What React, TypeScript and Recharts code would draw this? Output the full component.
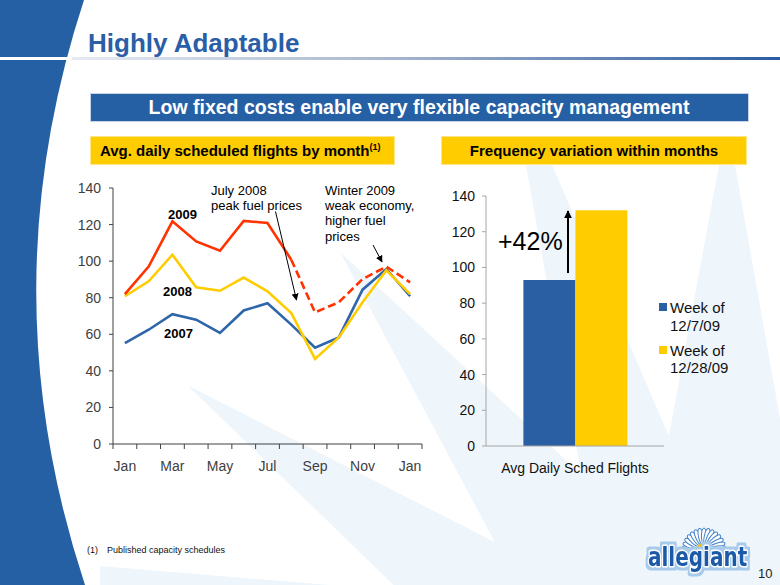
import React from 'react'
import { LineChart, Line, XAxis, YAxis, BarChart, Bar } from 'recharts'

const FONT = "'Liberation Sans', Arial, sans-serif"

// left chart: avg. daily scheduled flights by month
const months = ['Jan', 'Feb', 'Mar', 'Apr', 'May', 'Jun', 'Jul', 'Aug', 'Sep', 'Oct', 'Nov', 'Dec', 'Jan']
const flights2007 = [55.2, 62.5, 71, 68, 60.7, 73, 77, 65.3, 52.7, 58.3, 84.4, 95.7, 80.8]
const flights2008 = [80.8, 89, 103.5, 85.7, 83.8, 91, 83.5, 71.6, 46.5, 58.3, 77.5, 95, 82]
const flights2009 = [82, 97, 121.8, 110.8, 105.7, 122, 120.9, 100.8, null, null, null, null, null]
const flights2009Sched = [null, null, null, null, null, null, null, 100.8, 72, 77.5, 90.2, 97, 88.4]
const yTicks = [0, 20, 40, 60, 80, 100, 120, 140]

// right chart: frequency variation within months
const barCategories = ['Avg Daily Sched Flights']
const week1207 = [93]
const week1228 = [132]

const lineData = months.map((m, i) => ({
  idx: i, month: m, y2007: flights2007[i], y2008: flights2008[i], y2009: flights2009[i], y2009s: flights2009Sched[i],
}))
const barData = barCategories.map((c, i) => ({ name: c, w1: week1207[i], w2: week1228[i] }))

// tick marks sit between months, labels on every other month
const xTicks = Array.from({ length: months.length * 2 + 1 }, (_, k) => k / 2 - 0.5)

const BLUE = '#2e66a9'
const YELLOW = '#ffcc00'
const RED = '#ff3300'

function MonthTick(props: any) {
  const { x, y, payload } = props
  const v = payload.value as number
  const axisY = y - 7
  if (!Number.isInteger(v)) {
    return <line x1={x} x2={x} y1={axisY} y2={axisY + 5} stroke="#404040" strokeWidth={1} />
  }
  if (v % 2 !== 0) return <g />
  return (
    <text x={x} y={axisY + 27} textAnchor="middle" fill="#404040" fontSize={14} fontFamily={FONT}>
      {months[v]}
    </text>
  )
}

// faint sunburst rays in the slide background
const rays = [
  '187,385 620,606 409,600',
  '340,252 780,657 780,700 579,700',
  '525,160 550,160 733,585 760,700 601,700 601,585',
  '719,165 735,165 830,700 620,700',
  '100,566 330,585 100,585',
]

export default function App() {
  return (
    <div style={{ position: 'fixed', left: 0, top: 0, width: 780, height: 585, background: '#fff', overflow: 'hidden', fontFamily: FONT }}>
      <svg width={780} height={585} style={{ position: 'absolute', left: 0, top: 0 }}>
        <defs>
          <linearGradient id="rule" x1="0" x2="1" y1="0" y2="0">
            <stop offset="0" stopColor="#e6ebf2" />
            <stop offset="0.45" stopColor="#a8b6ce" />
            <stop offset="1" stopColor="#2a5ca2" />
          </linearGradient>
        </defs>
        {rays.map((p, i) => <polygon key={i} points={p} fill="#eef6fc" />)}
        <path d="M0,0 L84,0 Q-12,292 85,585 L0,585 Z" fill="#2660a4" />
        <rect x={0} y={57} width={80} height={3} fill="#fff" />
        <rect x={72} y={57} width={708} height={3} fill="url(#rule)" />
        <text x={88} y={52} fontSize={26} fontWeight="bold" fill="#2a5ea6" fontFamily={FONT}>Highly Adaptable</text>

        <rect x={90.5} y={93.5} width={658} height={28} fill="#2660a4" stroke="#c9d5e6" />
        <text x={419} y={114} fontSize={19.5} fontWeight="bold" fill="#fff" textAnchor="middle" fontFamily={FONT}>
          Low fixed costs enable very flexible capacity management
        </text>

        <rect x={90.5} y={136.5} width={304} height={28} fill="#ffcc00" stroke="#ffe58a" />
        <text x={100} y={156} fontSize={15} fontWeight="bold" fill="#000" fontFamily={FONT}>
          Avg. daily scheduled flights by month
          <tspan fontSize={9} dy={-6}>(1)</tspan>
        </text>
        <rect x={441.5} y={136.5} width={305} height={28} fill="#ffcc00" stroke="#ffe58a" />
        <text x={594} y={156} fontSize={15} fontWeight="bold" fill="#000" textAnchor="middle" fontFamily={FONT}>
          Frequency variation within months
        </text>

        <text x={87} y={553} fontSize={9} fill="#111" fontFamily={FONT}>(1)</text>
        <text x={107} y={553} fontSize={9} fill="#111" fontFamily={FONT}>Published capacity schedules</text>
      </svg>

      <div style={{ position: 'absolute', left: 60, top: 170 }}>
        <LineChart width={380} height={310} data={lineData} margin={{ top: 18, right: 18, bottom: 6, left: 8 }}>
          <XAxis
            dataKey="idx" type="number" domain={[-0.5, 12.5]} ticks={xTicks} interval={0}
            tick={<MonthTick />} tickLine={false} tickSize={5} tickMargin={2} height={30}
            axisLine={{ stroke: '#404040' }}
          />
          <YAxis
            domain={[0, 140]} ticks={yTicks} width={45} tickSize={4} tickMargin={8}
            axisLine={{ stroke: '#404040' }} tickLine={{ stroke: '#404040' }}
            tick={{ fill: '#404040', fontSize: 14, fontFamily: FONT }}
          />
          <Line dataKey="y2007" stroke={BLUE} strokeWidth={2.6} dot={false} isAnimationActive={false} />
          <Line dataKey="y2008" stroke={YELLOW} strokeWidth={2.6} dot={false} isAnimationActive={false} />
          <Line dataKey="y2009" stroke={RED} strokeWidth={2.6} dot={false} isAnimationActive={false} />
          <Line dataKey="y2009s" stroke={RED} strokeWidth={2.6} strokeDasharray="8 4" dot={false} isAnimationActive={false} />
        </LineChart>
      </div>

      <div style={{ position: 'absolute', left: 440, top: 180 }}>
        <BarChart width={340} height={300} data={barData} margin={{ top: 16, right: 116, bottom: 4, left: 6 }} barCategoryGap="21%" barGap={0}>
          <XAxis
            dataKey="name" height={30} tickLine={false} tickSize={0} tickMargin={17}
            axisLine={{ stroke: '#a6a6a6' }} tick={{ fill: '#111', fontSize: 14, fontFamily: FONT }}
          />
          <YAxis
            domain={[0, 140]} ticks={yTicks} width={40} tickSize={4} tickMargin={7}
            axisLine={{ stroke: '#a6a6a6' }} tickLine={{ stroke: '#a6a6a6' }}
            tick={{ fill: '#111', fontSize: 14, fontFamily: FONT }}
          />
          <Bar dataKey="w1" fill="#2a5fa3" isAnimationActive={false} />
          <Bar dataKey="w2" fill={YELLOW} isAnimationActive={false} />
        </BarChart>
      </div>

      <svg width={780} height={585} style={{ position: 'absolute', left: 0, top: 0, pointerEvents: 'none' }}>
        <defs>
          <marker id="ah" viewBox="0 0 10 10" refX="9" refY="5" markerWidth="7" markerHeight="7" orient="auto">
            <path d="M0,0 L10,5 L0,10 Z" fill="#000" />
          </marker>
          <marker id="ah2" viewBox="0 0 10 10" refX="9" refY="5" markerWidth="4" markerHeight="4" orient="auto">
            <path d="M0,0 L10,5 L0,10 Z" fill="#000" />
          </marker>
          <filter id="glow" x="-10%" y="-20%" width="120%" height="140%">
            <feMorphology in="SourceAlpha" operator="dilate" radius="2" result="d" />
            <feFlood floodColor="#a9cbeb" />
            <feComposite in2="d" operator="in" result="halo" />
            <feMerge>
              <feMergeNode in="halo" />
              <feMergeNode in="SourceGraphic" />
            </feMerge>
          </filter>
        </defs>
        <g fontFamily={FONT} fontWeight="bold" fontSize={13} fill="#000">
          <text x={168} y={219}>2009</text>
          <text x={163} y={296}>2008</text>
          <text x={164} y={338}>2007</text>
        </g>
        <g fontFamily={FONT} fontSize={13} fill="#000">
          <text x={211} y={194.5}>July 2008</text>
          <text x={211} y={209.5}>peak fuel prices</text>
          <text x={325} y={194.5}>Winter 2009</text>
          <text x={325} y={209.5}>weak economy,</text>
          <text x={325} y={225}>higher fuel</text>
          <text x={325} y={240.5}>prices</text>
        </g>
        <line x1={275.5} y1={211.5} x2={296.5} y2={300} stroke="#000" strokeWidth={1} markerEnd="url(#ah)" />
        <line x1={373} y1={245} x2={382} y2={262} stroke="#000" strokeWidth={1} markerEnd="url(#ah)" />

        <text x={498} y={250} fontSize={25} fill="#000" fontFamily={FONT}>+42%</text>
        <line x1={568} y1={273} x2={568} y2={211} stroke="#000" strokeWidth={2} markerEnd="url(#ah2)" />

        <rect x={659} y={303} width={8} height={8} fill="#2a5fa3" />
        <rect x={659} y={346} width={8} height={8} fill={YELLOW} />
        <g fontFamily={FONT} fontSize={15} fill="#111">
          <text x={670} y={312.5}>Week of</text>
          <text x={670} y={330.5}>12/7/09</text>
          <text x={670} y={355.5}>Week of</text>
          <text x={670} y={373}>12/28/09</text>
        </g>

        <g>
          {Array.from({ length: 15 }, (_, k) => {
            const a = Math.PI + (k + 0.5) * (Math.PI / 15)
            const cx = 704 + Math.cos(a) * 14
            const cy = 550 + Math.sin(a) * 14
            return (
              <ellipse key={k} cx={cx} cy={cy} rx={8} ry={2.6} fill="#fff" stroke="#3f80c8" strokeWidth={1}
                transform={`rotate(${(a * 180) / Math.PI} ${cx} ${cy})`} />
            )
          })}
          <path d="M696,551 A8,8 0 0 1 712,551 Z" fill="#f7c300" />
        </g>
        <g transform="translate(648 566) scale(1 1.35)">
          <text x={0} y={0} fontSize={20} fontWeight="bold" fontFamily="'DejaVu Sans', sans-serif"
            fill="#1b5aa7" stroke="#fff" strokeWidth={2.4} strokeLinejoin="round" filter="url(#glow)" style={{ paintOrder: 'stroke' }}>allegiant</text>
        </g>
        <text x={758} y={578} fontSize={13} fill="#222" fontFamily={FONT}>10</text>
      </svg>
    </div>
  )
}
